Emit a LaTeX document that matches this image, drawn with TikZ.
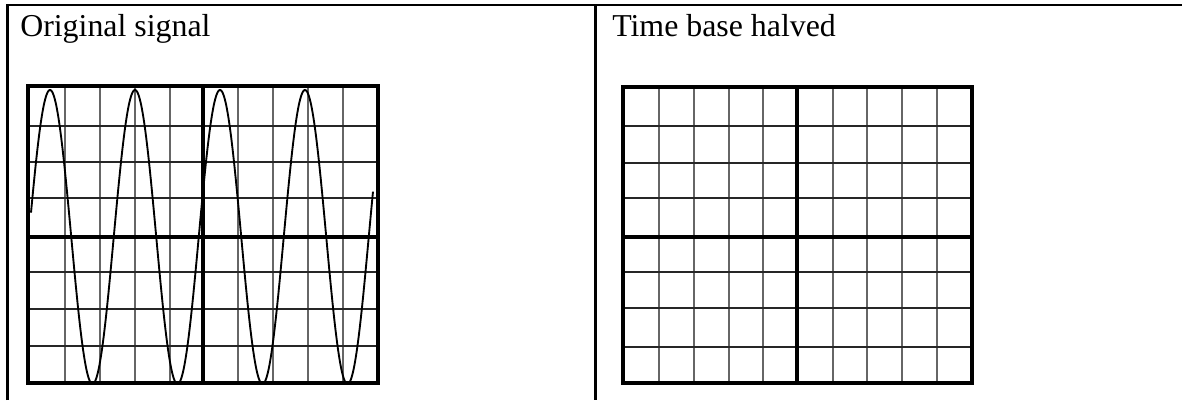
\documentclass[tikz,border=0pt]{standalone}
\usepackage{fontspec}
\setmainfont{Liberation Serif}
\begin{document}
\begin{tikzpicture}[x=0.75pt,y=-0.75pt,
  tableline/.style={line width=1.9pt,black},
  gridframe/.style={line width=3.1pt,black},
  gridaxis/.style={line width=3.6pt,black},
  gridv/.style={line width=1.6pt,black!60},
  gridh/.style={line width=1.4pt,black!85},
  wave/.style={line width=1.4pt,black,line join=round},
  title/.style={anchor=base west,inner sep=0pt,font=\fontsize{23.9}{28}\selectfont}]
\useasboundingbox (0,0) rectangle (1182,400);
\fill[white] (0,0) rectangle (1182,400);
% table rules
\draw[tableline] (7.5,400) -- (7.5,5) -- (1182,5);
\draw[tableline] (595.5,5) -- (595.5,400);
% titles
\node[title] (t1) at (20,36) {Original signal};
\node[title] (t2) at (612,36) {Time base halved};
% left grid
\foreach \xx in {65,100,135,170,238,273,308,343} \draw[gridv] (\xx,86) -- (\xx,383);
\foreach \yy in {126,162,198,272,309,346} \draw[gridh] (28,\yy) -- (378,\yy);
\draw[gridaxis] (203,86) -- (203,385);
\draw[gridaxis] (28,237) -- (378,237);
\draw[gridframe] (28,86) rectangle (378,383);
% right grid
\foreach \xx in {659,694,729,763,833,867,902,937} \draw[gridv] (\xx,87) -- (\xx,383);
\foreach \yy in {126,163,198,272,308,347} \draw[gridh] (623,\yy) -- (972,\yy);
\draw[gridaxis] (797,87) -- (797,385);
\draw[gridaxis] (623,237) -- (972,237);
\draw[gridframe] (623,87) rectangle (972,383);
% signal
\draw[wave] plot[domain=31:373,samples=500] (\x,{237-147*cos(4.23529*(\x-50))});
\end{tikzpicture}
\end{document}
